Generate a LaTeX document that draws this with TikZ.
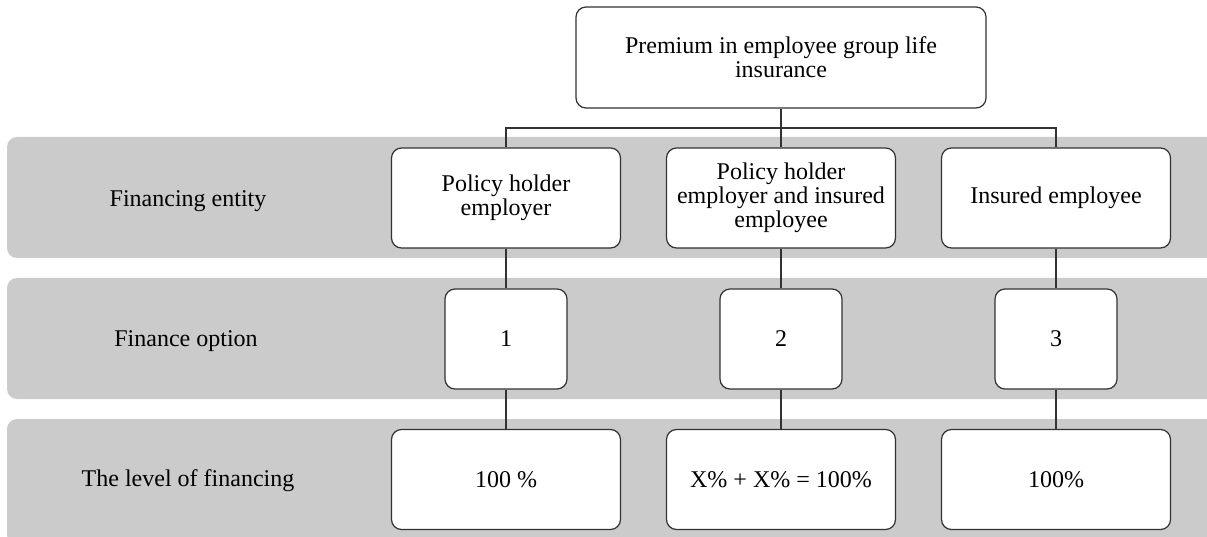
\documentclass[tikz,border=0pt]{standalone}
\usepackage{fontspec}
\setmainfont{Liberation Serif}
\usetikzlibrary{calc}
\definecolor{bandgray}{RGB}{203,203,203}
\definecolor{linecol}{RGB}{50,50,50}
\tikzset{
  box/.style={draw=linecol, line width=1.2pt, fill=white, rounded corners=10pt,
    align=center, inner sep=0pt, font=\fontsize{24}{24}\selectfont},
  widebox/.style={box, minimum width=229pt, minimum height=100pt},
  smallbox/.style={box, minimum width=122pt, minimum height=100pt},
  topbox/.style={box, minimum width=410pt, minimum height=101pt},
  band/.style={fill=bandgray, draw=none, rounded corners=10pt},
  rowlabel/.style={font=\fontsize{24}{24}\selectfont, inner sep=0pt},
  conn/.style={draw=linecol, line width=1.2pt}
}
\begin{document}
\begin{tikzpicture}[x=1pt, y=-1pt]
\useasboundingbox (0,0) rectangle (1207,537);
\fill[white] (0,0) rectangle (1207,537);
% bands
\path[band] (7,137) rectangle (1230,258);
\path[band] (7,278) rectangle (1230,399);
\path[band] (7,419) rectangle (1230,545);
% row labels
\node[rowlabel] (lab1) at (188,201) {Financing entity};
\node[rowlabel] (lab2) at (186,341) {Finance option};
\node[rowlabel] (lab3) at (188,481) {The level of financing};
% top
\node[topbox] (top) at (781,57.5) {Premium in employee group life\\insurance};
% entity row
\node[widebox] (e1) at (506,198) {Policy holder\\employer};
\node[widebox] (e2) at (781,198) {Policy holder\\employer and insured\\employee};
\node[widebox] (e3) at (1056,198) {Insured employee};
% option row
\node[smallbox] (o1) at (506,339) {1};
\node[smallbox] (o2) at (781,339) {2};
\node[smallbox] (o3) at (1056,339) {3};
% level row
\node[widebox] (l1) at (506,479.5) {100 \%};
\node[widebox] (l2) at (781,479.5) {X\% + X\% = 100\%};
\node[widebox] (l3) at (1056,479.5) {100\%};
% connectors
\coordinate (bus) at ($(top.south)!0.5!(e2.north)$);
\draw[conn] (top.south) -- (e2.north);
\draw[conn] (e1.north) |- (bus) -| (e3.north);
\draw[conn] (e1.south) -- (o1.north);
\draw[conn] (e2.south) -- (o2.north);
\draw[conn] (e3.south) -- (o3.north);
\draw[conn] (o1.south) -- (l1.north);
\draw[conn] (o2.south) -- (l2.north);
\draw[conn] (o3.south) -- (l3.north);
\end{tikzpicture}
\end{document}
